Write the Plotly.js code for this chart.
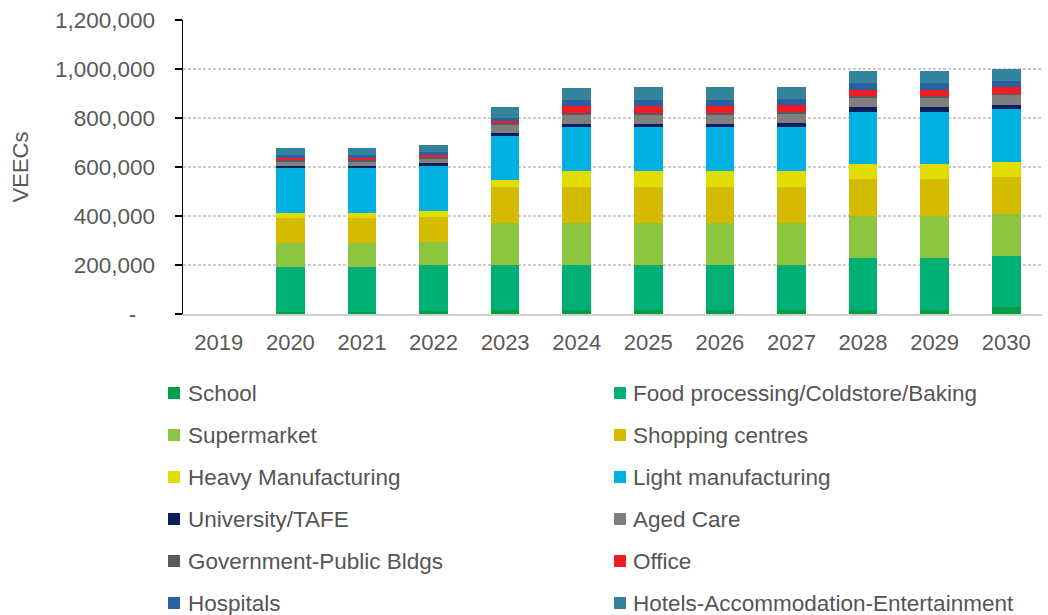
<!DOCTYPE html>
<html>
<head>
<meta charset="utf-8">
<script src="https://cdn.plot.ly/plotly-3.0.1.min.js"></script>
<style>html,body{margin:0;padding:0;background:#fff;}#chart{width:1048px;height:615px;}</style>
</head>
<body>
<div id="chart"></div>
<script>
const years = ['2019','2020','2021','2022','2023','2024','2025','2026','2027','2028','2029','2030'];
const seriesNames = ['School','Food processing/Coldstore/Baking','Supermarket','Shopping centres','Heavy Manufacturing','Light manufacturing','University/TAFE','Aged Care','Government-Public Bldgs','Office','Hospitals','Hotels-Accommodation-Entertainment'];
const seriesColors = ['#00A046','#00AF74','#8CC540','#D5BB00','#E2DD00','#00B0E0','#0B1F5C','#7F7F7F','#5A5A5A','#EE1C25','#2A5FA0','#31849B'];

const school     = [0,   7000,   7000,  14000,  16000,  16000,  16000,  16000,  16000,  16000,  16000,  27000];
const food       = [0, 186000, 186000, 186000, 182000, 182000, 182000, 182000, 182000, 213000, 213000, 209000];
const supermarket= [0,  95000,  95000,  95000, 175000, 175000, 175000, 175000, 175000, 173000, 173000, 174000];
const shopping   = [0, 102000, 102000, 100000, 146000, 146000, 146000, 146000, 146000, 148000, 148000, 150000];
const heavy      = [0,  24000,  24000,  25000,  27000,  64000,  64000,  64000,  64000,  64000,  64000,  61000];
const light      = [0, 180000, 180000, 185000, 180000, 179000, 180000, 180000, 182000, 211000, 211000, 215000];
const university = [0,  10000,  10000,  10000,  14000,  14000,  14000,  14000,  16000,  18000,  18000,  18000];
const agedCare   = [0,  16000,  16000,  18000,  31000,  37000,  37000,  37000,  36000,  37000,  37000,  38000];
const government = [0,   7000,   7000,   7000,   7000,   7000,   8000,   8000,   9000,   9000,   9000,   7000];
const office     = [0,  11000,  11000,  10000,   9000,  27000,  27000,  27000,  27000,  25000,  25000,  27000];
const hospitals  = [0,   9000,   9000,  10000,  11000,  27000,  26000,  26000,  25000,  27000,  27000,  27000];
const hotels     = [0,  31000,  31000,  30000,  47000,  48000,  50000,  50000,  48000,  52000,  52000,  47000];

const yTickVals = [0,200000,400000,600000,800000,1000000,1200000];
const yTickText = ['-\u00a0\u00a0\u00a0','200,000','400,000','600,000','800,000','1,000,000','1,200,000'];

const seriesValues = [school,food,supermarket,shopping,heavy,light,university,agedCare,government,office,hospitals,hotels];

const traces = seriesNames.map((n,i)=>({
  type:'bar', name:n, x:years, y:seriesValues[i],
  marker:{color:seriesColors[i], line:{width:0}},
  showlegend:false, hoverinfo:'x+y+name'
}));

// plot area geometry (pixels)
const L=183, R=1042, T=20, B=314;
const px2x = p => (p-L)/(R-L);
const py2y = p => (B-p)/(B-T);

const shapes=[], annotations=[];
const rowY=[393,435,477,519,561,603];
const colSq=[168,614], colTx=[186,631];
seriesNames.forEach((n,i)=>{
  const r=Math.floor(i/2), c=i%2;
  const cy=rowY[r];
  shapes.push({type:'rect', xref:'paper', yref:'paper',
    x0:px2x(colSq[c]), x1:px2x(colSq[c]+12), y0:py2y(cy+6), y1:py2y(cy-6),
    fillcolor:seriesColors[i], line:{width:0}});
  annotations.push({xref:'paper', yref:'paper', x:px2x(colTx[c]), y:py2y(cy),
    xanchor:'left', yanchor:'middle', showarrow:false, text:n,
    font:{family:'Liberation Sans, Arial, sans-serif', size:22.5, color:'#555555'}});
});

const layout = {
  width:1048, height:615,
  margin:{l:L, r:1048-R, t:T, b:615-B, pad:0},
  paper_bgcolor:'#fff', plot_bgcolor:'#fff',
  barmode:'stack', bargap:0.6,
  font:{family:'Liberation Sans, Arial, sans-serif', color:'#595959', size:22},
  xaxis:{type:'category', showgrid:false, showline:true, linecolor:'#d0d0d0', linewidth:1.5,
    ticks:'', ticklabelstandoff:8, tickfont:{size:22, color:'#595959'}, fixedrange:true},
  yaxis:{range:[0,1200000], tickvals:yTickVals, ticktext:yTickText,
    showgrid:true, gridcolor:'#cccccc', gridwidth:1.5, griddash:'3px,2px',
    zeroline:false, showline:true, linecolor:'#000', linewidth:1.5,
    ticks:'outside', ticklen:7, tickcolor:'#000', tickwidth:1.5,
    ticklabelstandoff:15, tickfont:{size:22.5, color:'#595959'},
    title:{text:'VEECs', font:{size:22, color:'#595959'}, standoff:20}, fixedrange:true},
  shapes:shapes, annotations:annotations
};

Plotly.newPlot('chart', traces, layout, {displayModeBar:false, staticPlot:true});
</script>
</body>
</html>
